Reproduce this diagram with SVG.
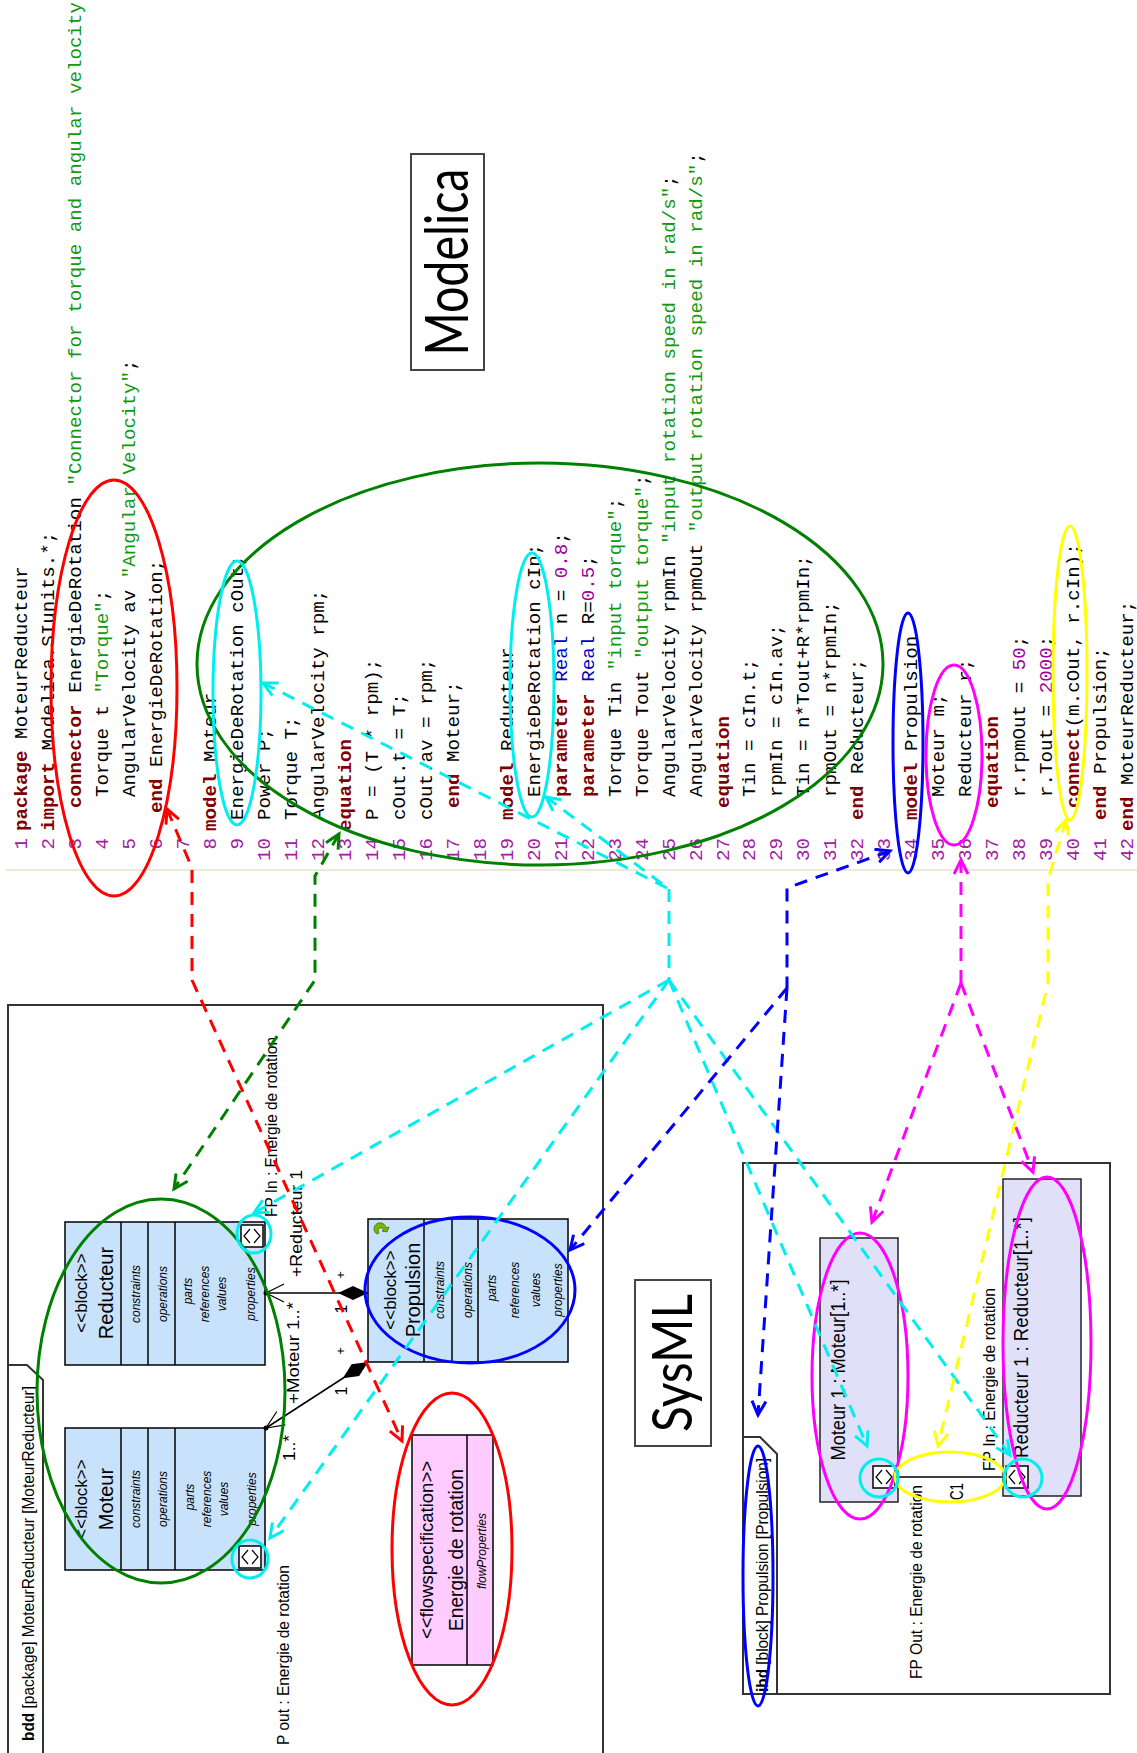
<svg xmlns="http://www.w3.org/2000/svg" xmlns:xlink="http://www.w3.org/1999/xlink" width="1137" height="1753" viewBox="0 0 1137 1753">
<style>
.c{font-family:"Liberation Mono","Courier New",monospace;font-size:19.2px;fill:#000}
.k{fill:#7f0000;font-weight:bold}
.s{fill:#119911}
.n{fill:#a000a0}
.t{fill:#0000c0}
.ln{font-family:"Liberation Mono","Courier New",monospace;font-size:19.2px;fill:#a020a0;text-anchor:end}
.sy{font-family:"Liberation Sans",Arial,sans-serif;fill:#000}
.mid{text-anchor:middle}
.it{font-style:italic;font-size:12px}
.big{font-family:Lato,"Open Sans",sans-serif;fill:#000}
.el{fill:none;stroke-width:3}
.d{fill:none;stroke-width:3;stroke-dasharray:13 9}
.blk{fill:#c8e2fc;stroke:#000;stroke-width:1.5}
.prt{fill:#e0e0f8;stroke:#222;stroke-width:1.5}
.frm{fill:none;stroke:#333;stroke-width:2}
.ln1{stroke:#000;stroke-width:1.5}
</style>
<defs>
<marker id="aR" markerUnits="userSpaceOnUse" markerWidth="18" markerHeight="18" refX="15" refY="8" orient="auto-start-reverse"><path d="M1,1 L15,8 L1,15" fill="none" stroke="#ff0000" stroke-width="3"/></marker>
<marker id="aG" markerUnits="userSpaceOnUse" markerWidth="18" markerHeight="18" refX="15" refY="8" orient="auto-start-reverse"><path d="M1,1 L15,8 L1,15" fill="none" stroke="#008000" stroke-width="3"/></marker>
<marker id="aC" markerUnits="userSpaceOnUse" markerWidth="18" markerHeight="18" refX="15" refY="8" orient="auto-start-reverse"><path d="M1,1 L15,8 L1,15" fill="none" stroke="#00eeee" stroke-width="3"/></marker>
<marker id="aB" markerUnits="userSpaceOnUse" markerWidth="18" markerHeight="18" refX="15" refY="8" orient="auto-start-reverse"><path d="M1,1 L15,8 L1,15" fill="none" stroke="#0000ff" stroke-width="3"/></marker>
<marker id="aM" markerUnits="userSpaceOnUse" markerWidth="18" markerHeight="18" refX="15" refY="8" orient="auto-start-reverse"><path d="M1,1 L15,8 L1,15" fill="none" stroke="#ff00ff" stroke-width="3"/></marker>
<marker id="aY" markerUnits="userSpaceOnUse" markerWidth="18" markerHeight="18" refX="15" refY="8" orient="auto-start-reverse"><path d="M1,1 L15,8 L1,15" fill="none" stroke="#ffff00" stroke-width="3"/></marker>
<g id="port"><rect x="0" y="0" width="22" height="22" fill="#fff" stroke="#000" stroke-width="1.5"/><polyline points="9,4 3,11 9,18" fill="none" stroke="#000" stroke-width="1.2"/><polyline points="13,4 19,11 13,18" fill="none" stroke="#000" stroke-width="1.2"/></g>
</defs>
<rect width="1137" height="1753" fill="#fff"/>

<g id="modelica-code">
<line x1="6" y1="870" x2="1137" y2="870" stroke="#ece9d8" stroke-width="2"/>
<text class="ln" transform="translate(27,838) rotate(-90)">1</text>
<text class="ln" transform="translate(54,838) rotate(-90)">2</text>
<text class="ln" transform="translate(81,838) rotate(-90)">3</text>
<text class="ln" transform="translate(107.9,838) rotate(-90)">4</text>
<text class="ln" transform="translate(134.9,838) rotate(-90)">5</text>
<text class="ln" transform="translate(161.9,838) rotate(-90)">6</text>
<text class="ln" transform="translate(188.9,838) rotate(-90)">7</text>
<text class="ln" transform="translate(215.9,838) rotate(-90)">8</text>
<text class="ln" transform="translate(242.8,838) rotate(-90)">9</text>
<text class="ln" transform="translate(269.8,838) rotate(-90)">10</text>
<text class="ln" transform="translate(296.8,838) rotate(-90)">11</text>
<text class="ln" transform="translate(323.8,838) rotate(-90)">12</text>
<text class="ln" transform="translate(350.7,838) rotate(-90)">13</text>
<text class="ln" transform="translate(377.7,838) rotate(-90)">14</text>
<text class="ln" transform="translate(404.7,838) rotate(-90)">15</text>
<text class="ln" transform="translate(431.7,838) rotate(-90)">16</text>
<text class="ln" transform="translate(458.7,838) rotate(-90)">17</text>
<text class="ln" transform="translate(485.7,838) rotate(-90)">18</text>
<text class="ln" transform="translate(512.6,838) rotate(-90)">19</text>
<text class="ln" transform="translate(539.6,838) rotate(-90)">20</text>
<text class="ln" transform="translate(566.6,838) rotate(-90)">21</text>
<text class="ln" transform="translate(593.6,838) rotate(-90)">22</text>
<text class="ln" transform="translate(620.5,838) rotate(-90)">23</text>
<text class="ln" transform="translate(647.5,838) rotate(-90)">24</text>
<text class="ln" transform="translate(674.5,838) rotate(-90)">25</text>
<text class="ln" transform="translate(701.5,838) rotate(-90)">26</text>
<text class="ln" transform="translate(728.5,838) rotate(-90)">27</text>
<text class="ln" transform="translate(755.4,838) rotate(-90)">28</text>
<text class="ln" transform="translate(782.4,838) rotate(-90)">29</text>
<text class="ln" transform="translate(809.4,838) rotate(-90)">30</text>
<text class="ln" transform="translate(836.4,838) rotate(-90)">31</text>
<text class="ln" transform="translate(863.3,838) rotate(-90)">32</text>
<text class="ln" transform="translate(890.3,838) rotate(-90)">33</text>
<text class="ln" transform="translate(917.3,838) rotate(-90)">34</text>
<text class="ln" transform="translate(944.3,838) rotate(-90)">35</text>
<text class="ln" transform="translate(971.3,838) rotate(-90)">36</text>
<text class="ln" transform="translate(998.2,838) rotate(-90)">37</text>
<text class="ln" transform="translate(1025.2,838) rotate(-90)">38</text>
<text class="ln" transform="translate(1052.2,838) rotate(-90)">39</text>
<text class="ln" transform="translate(1079.2,838) rotate(-90)">40</text>
<text class="ln" transform="translate(1106.2,838) rotate(-90)">41</text>
<text class="ln" transform="translate(1133.2,838) rotate(-90)">42</text>

<text class="c" transform="translate(27,831) rotate(-90)"><tspan class="k">package</tspan> MoteurReducteur</text>
<text class="c" transform="translate(54,831) rotate(-90)"><tspan class="k">import</tspan> Modelica.SIunits.*;</text>
<text class="c" transform="translate(81,808) rotate(-90)"><tspan class="k">connector</tspan> EnergieDeRotation <tspan class="s">"Connector for torque and angular velocity"</tspan></text>
<text class="c" transform="translate(107.9,797) rotate(-90)">Torque t <tspan class="s">"Torque"</tspan>;</text>
<text class="c" transform="translate(134.9,797) rotate(-90)">AngularVelocity av <tspan class="s">"Angular Velocity"</tspan>;</text>
<text class="c" transform="translate(161.9,813) rotate(-90)"><tspan class="k">end</tspan> EnergieDeRotation;</text>
<text class="c" transform="translate(215.9,831) rotate(-90)"><tspan class="k">model</tspan> Moteur</text>
<text class="c" transform="translate(242.8,820) rotate(-90)">EnergieDeRotation cOut;</text>
<text class="c" transform="translate(269.8,820) rotate(-90)">Power P;</text>
<text class="c" transform="translate(296.8,820) rotate(-90)">Torque T;</text>
<text class="c" transform="translate(323.8,820) rotate(-90)">AngularVelocity rpm;</text>
<text class="c" transform="translate(350.7,831) rotate(-90)"><tspan class="k">equation</tspan></text>
<text class="c" transform="translate(377.7,820) rotate(-90)">P = (T * rpm);</text>
<text class="c" transform="translate(404.7,820) rotate(-90)">cOut.t = T;</text>
<text class="c" transform="translate(431.7,820) rotate(-90)">cOut.av = rpm;</text>
<text class="c" transform="translate(458.7,808) rotate(-90)"><tspan class="k">end</tspan> Moteur;</text>
<text class="c" transform="translate(512.6,820) rotate(-90)"><tspan class="k">model</tspan> Reducteur</text>
<text class="c" transform="translate(539.6,797) rotate(-90)">EnergieDeRotation cIn;</text>
<text class="c" transform="translate(566.6,797) rotate(-90)"><tspan class="k">parameter</tspan> <tspan class="t">Real</tspan> n = <tspan class="n">0.8</tspan>;</text>
<text class="c" transform="translate(593.6,797) rotate(-90)"><tspan class="k">parameter</tspan> <tspan class="t">Real</tspan> R=<tspan class="n">0.5</tspan>;</text>
<text class="c" transform="translate(620.5,797) rotate(-90)">Torque Tin <tspan class="s">"input torque"</tspan>;</text>
<text class="c" transform="translate(647.5,797) rotate(-90)">Torque Tout <tspan class="s">"output torque"</tspan>;</text>
<text class="c" transform="translate(674.5,797) rotate(-90)">AngularVelocity rpmIn <tspan class="s">"input rotation speed in rad/s"</tspan>;</text>
<text class="c" transform="translate(701.5,797) rotate(-90)">AngularVelocity rpmOut <tspan class="s">"output rotation speed in rad/s"</tspan>;</text>
<text class="c" transform="translate(728.5,808) rotate(-90)"><tspan class="k">equation</tspan></text>
<text class="c" transform="translate(755.4,797) rotate(-90)">Tin = cIn.t;</text>
<text class="c" transform="translate(782.4,797) rotate(-90)">rpmIn = cIn.av;</text>
<text class="c" transform="translate(809.4,797) rotate(-90)">Tin = n*Tout+R*rpmIn;</text>
<text class="c" transform="translate(836.4,797) rotate(-90)">rpmOut = n*rpmIn;</text>
<text class="c" transform="translate(863.3,820) rotate(-90)"><tspan class="k">end</tspan> Reducteur;</text>
<text class="c" transform="translate(917.3,820) rotate(-90)"><tspan class="k">model</tspan> Propulsion</text>
<text class="c" transform="translate(944.3,797) rotate(-90)">Moteur m;</text>
<text class="c" transform="translate(971.3,797) rotate(-90)">Reducteur r;</text>
<text class="c" transform="translate(998.2,808) rotate(-90)"><tspan class="k">equation</tspan></text>
<text class="c" transform="translate(1025.2,797) rotate(-90)">r.rpmOut = <tspan class="n">50</tspan>;</text>
<text class="c" transform="translate(1052.2,797) rotate(-90)">r.Tout = <tspan class="n">2000</tspan>;</text>
<text class="c" transform="translate(1079.2,808) rotate(-90)"><tspan class="k">connect</tspan>(m.cOut, r.cIn);</text>
<text class="c" transform="translate(1106.2,820) rotate(-90)"><tspan class="k">end</tspan> Propulsion;</text>
<text class="c" transform="translate(1133.2,831) rotate(-90)"><tspan class="k">end</tspan> MoteurReducteur;</text>
</g>

<g id="label-modelica">
<rect x="411" y="154" width="73" height="216" fill="none" stroke="#444" stroke-width="2"/>
<text class="big mid" font-size="60" textLength="187" lengthAdjust="spacingAndGlyphs" transform="translate(468,262) rotate(-90)">Modelica</text>
</g>

<g id="label-sysml">
<rect x="635" y="1280" width="76" height="166" fill="none" stroke="#444" stroke-width="2"/>
<text class="big mid" font-size="56" textLength="138" lengthAdjust="spacingAndGlyphs" transform="translate(692,1363) rotate(-90)">SysML</text>
</g>

<g id="bdd-frame">
<rect x="8" y="1005" width="595" height="770" class="frm"/>
<path d="M8,1365 L27,1365 L43,1380 L43,1753" class="frm"/>
<text class="sy" font-size="17" textLength="355" lengthAdjust="spacingAndGlyphs" transform="translate(34,1741) rotate(-90)"><tspan font-weight="bold">bdd</tspan> [package] MoteurReducteur [MoteurReducteur]</text>
</g>

<g id="block-reducteur">
<rect x="65" y="1222" width="200" height="143" class="blk"/>
<line x1="121" y1="1222" x2="121" y2="1365" class="ln1"/>
<line x1="148" y1="1222" x2="148" y2="1365" class="ln1"/>
<line x1="175" y1="1222" x2="175" y2="1365" class="ln1"/>
<text class="sy mid" font-size="17" transform="translate(87,1293) rotate(-90)">&lt;&lt;block&gt;&gt;</text>
<text class="sy mid" font-size="20" transform="translate(113,1293) rotate(-90)">Reducteur</text>
<text class="sy mid it" transform="translate(140,1294) rotate(-90)">constraints</text>
<text class="sy mid it" transform="translate(167,1294) rotate(-90)">operations</text>
<text class="sy mid it" transform="translate(192,1291) rotate(-90)">parts</text>
<text class="sy mid it" transform="translate(209,1294) rotate(-90)">references</text>
<text class="sy mid it" transform="translate(226,1294) rotate(-90)">values</text>
<text class="sy mid it" transform="translate(255,1294) rotate(-90)">properties</text>
<use href="#port" x="241" y="1225"/>
</g>

<g id="block-moteur">
<rect x="65" y="1428" width="200" height="142" class="blk"/>
<line x1="121" y1="1428" x2="121" y2="1570" class="ln1"/>
<line x1="148" y1="1428" x2="148" y2="1570" class="ln1"/>
<line x1="175" y1="1428" x2="175" y2="1570" class="ln1"/>
<text class="sy mid" font-size="17" transform="translate(87,1499) rotate(-90)">&lt;&lt;block&gt;&gt;</text>
<text class="sy mid" font-size="20" transform="translate(113,1499) rotate(-90)">Moteur</text>
<text class="sy mid it" transform="translate(140,1499) rotate(-90)">constraints</text>
<text class="sy mid it" transform="translate(167,1499) rotate(-90)">operations</text>
<text class="sy mid it" transform="translate(194,1497) rotate(-90)">parts</text>
<text class="sy mid it" transform="translate(211,1499) rotate(-90)">references</text>
<text class="sy mid it" transform="translate(228,1499) rotate(-90)">values</text>
<text class="sy mid it" transform="translate(256,1499) rotate(-90)">properties</text>
<use href="#port" x="239" y="1546"/>
</g>

<g id="block-propulsion">
<rect x="368" y="1219" width="200" height="143" class="blk"/>
<line x1="424" y1="1219" x2="424" y2="1362" class="ln1"/>
<line x1="452" y1="1219" x2="452" y2="1362" class="ln1"/>
<line x1="478" y1="1219" x2="478" y2="1362" class="ln1"/>
<path d="M377,1234 a6,6 0 1 1 9,-6 l3,-1 -2,5 -5,-1 2,-1 a3,3 0 1 0 -5,3 z" fill="#7ab800" stroke="#3a6e00" stroke-width="0.8"/>
<text class="sy mid" font-size="17" transform="translate(396,1290) rotate(-90)">&lt;&lt;block&gt;&gt;</text>
<text class="sy mid" font-size="20" transform="translate(420,1290) rotate(-90)">Propulsion</text>
<text class="sy mid it" transform="translate(444,1290) rotate(-90)">constraints</text>
<text class="sy mid it" transform="translate(472,1290) rotate(-90)">operations</text>
<text class="sy mid it" transform="translate(496,1288) rotate(-90)">parts</text>
<text class="sy mid it" transform="translate(519,1290) rotate(-90)">references</text>
<text class="sy mid it" transform="translate(540,1290) rotate(-90)">values</text>
<text class="sy mid it" transform="translate(562,1290) rotate(-90)">properties</text>
</g>

<g id="block-energie">
<rect x="412" y="1435" width="81" height="230" fill="#ffccff" stroke="#000" stroke-width="1.5"/>
<line x1="467" y1="1435" x2="467" y2="1665" class="ln1"/>
<text class="sy mid" font-size="18" textLength="178" lengthAdjust="spacingAndGlyphs" transform="translate(433,1550) rotate(-90)">&lt;&lt;flowspecification&gt;&gt;</text>
<text class="sy mid" font-size="20" textLength="162" lengthAdjust="spacingAndGlyphs" transform="translate(463,1550) rotate(-90)">Energie de rotation</text>
<text class="sy mid it" transform="translate(486,1551) rotate(-90)">flowProperties</text>
</g>

<g id="bdd-associations">
<line x1="368" y1="1293" x2="266" y2="1293" class="ln1"/>
<polygon points="368,1293 353,1286 338,1293 353,1300" fill="#000"/>
<polyline points="284,1284 266,1293 284,1302" fill="none" stroke="#000" stroke-width="1.2"/>
<circle cx="266" cy="1293" r="2.5" fill="#000"/>
<line x1="368" y1="1362" x2="266" y2="1428" class="ln1"/>
<polygon points="368,1362 359.2,1376 342.8,1378.3 351.6,1364.2" fill="#000"/>
<polyline points="285.4,1424.9 266,1428 276.8,1411.5" fill="none" stroke="#000" stroke-width="1.2"/>
<circle cx="266" cy="1428" r="2.5" fill="#000"/>
<text class="sy" font-size="17" textLength="107" lengthAdjust="spacingAndGlyphs" transform="translate(302,1277) rotate(-90)">+Reducteur 1</text>
<text class="sy" font-size="17" textLength="102" lengthAdjust="spacingAndGlyphs" transform="translate(299,1404) rotate(-90)">+Moteur 1..*</text>
<text class="sy" font-size="17" textLength="26" lengthAdjust="spacingAndGlyphs" transform="translate(295,1461) rotate(-90)">1..*</text>
<text class="sy mid" font-size="13" transform="translate(345,1275) rotate(-90)">+</text>
<text class="sy mid" font-size="16" transform="translate(347,1309) rotate(-90)">1</text>
<text class="sy mid" font-size="13" transform="translate(345,1351) rotate(-90)">+</text>
<text class="sy mid" font-size="16" transform="translate(347,1391) rotate(-90)">1</text>
<text class="sy" font-size="16.5" textLength="180" lengthAdjust="spacingAndGlyphs" transform="translate(277,1217) rotate(-90)">FP In : Energie de rotation</text>
<text class="sy" font-size="16.5" textLength="180" lengthAdjust="spacingAndGlyphs" transform="translate(289,1745) rotate(-90)">P out : Energie de rotation</text>
</g>

<g id="ibd-frame">
<rect x="743" y="1163" width="367" height="531" class="frm"/>
<path d="M743,1437 L760,1437 L777,1454 L777,1694" class="frm"/>
<text class="sy" font-size="17" textLength="234" lengthAdjust="spacingAndGlyphs" transform="translate(768,1692) rotate(-90)"><tspan font-weight="bold">ibd</tspan> [block] Propulsion [Propulsion]</text>
</g>

<g id="part-moteur">
<rect x="820" y="1238" width="78" height="264" class="prt"/>
<text class="sy mid" font-size="20" textLength="181" lengthAdjust="spacingAndGlyphs" transform="translate(845,1370) rotate(-90)">Moteur 1 : Moteur[1..*]</text>
<use href="#port" x="873" y="1466"/>
<text class="sy" font-size="16.5" textLength="194" lengthAdjust="spacingAndGlyphs" transform="translate(922,1679) rotate(-90)">FP Out : Energie de rotation</text>
</g>

<g id="part-reducteur">
<rect x="1003" y="1179" width="78" height="317" class="prt"/>
<text class="sy" font-size="20" textLength="241" lengthAdjust="spacingAndGlyphs" transform="translate(1028,1458) rotate(-90)">Reducteur 1 : Reducteur[1..*]</text>
<use href="#port" x="1006" y="1466"/>
<text class="sy" font-size="16.5" textLength="183" lengthAdjust="spacingAndGlyphs" transform="translate(995,1471) rotate(-90)">FP In : Energie de rotation</text>
</g>

<g id="ibd-connector">
<line x1="895" y1="1477" x2="1006" y2="1477" class="ln1"/>
<text class="sy" font-size="18" textLength="17" lengthAdjust="spacingAndGlyphs" transform="translate(963,1500) rotate(-90)">C1</text>
</g>

<g id="highlights">
<ellipse cx="114" cy="688" rx="63" ry="208" class="el" stroke="#ff0000"/>
<ellipse cx="540" cy="664" rx="343" ry="201" class="el" stroke="#008000"/>
<ellipse cx="237" cy="693" rx="24" ry="132" class="el" stroke="#00eeee"/>
<ellipse cx="532" cy="685" rx="22" ry="132" class="el" stroke="#00eeee"/>
<ellipse cx="908" cy="743" rx="15" ry="130" class="el" stroke="#0000ff"/>
<ellipse cx="954" cy="755" rx="28" ry="90" class="el" stroke="#ff00ff"/>
<ellipse cx="1070" cy="673" rx="17" ry="147" class="el" stroke="#ffff00"/>
<ellipse cx="161" cy="1391" rx="124" ry="192" class="el" stroke="#008000"/>
<ellipse cx="254" cy="1234" rx="17" ry="19" class="el" stroke="#00eeee"/>
<ellipse cx="250" cy="1559" rx="18" ry="19" class="el" stroke="#00eeee"/>
<ellipse cx="470" cy="1290" rx="105" ry="73" class="el" stroke="#0000ff"/>
<ellipse cx="452" cy="1549" rx="60" ry="156" class="el" stroke="#ff0000"/>
<ellipse cx="758" cy="1576" rx="15" ry="130" class="el" stroke="#0000ff"/>
<ellipse cx="860" cy="1376" rx="48" ry="143" class="el" stroke="#ff00ff"/>
<ellipse cx="1047" cy="1343" rx="44" ry="166" class="el" stroke="#ff00ff"/>
<ellipse cx="950" cy="1477" rx="55" ry="25" class="el" stroke="#ffff00"/>
<ellipse cx="879" cy="1478" rx="19" ry="19" class="el" stroke="#00eeee"/>
<ellipse cx="1023" cy="1478" rx="19" ry="19" class="el" stroke="#00eeee"/>
</g>

<g id="connectors">
<path d="M167,809 L192,868 L192,980 L402,1441" class="d" stroke="#ff0000" marker-start="url(#aR)" marker-end="url(#aR)"/>
<path d="M339,834 L315,876 L315,980 L174,1189" class="d" stroke="#008000" marker-start="url(#aG)" marker-end="url(#aG)"/>
<path d="M263,683 L669,889" class="d" stroke="#00eeee" marker-start="url(#aC)"/>
<path d="M546,797 L669,889" class="d" stroke="#00eeee" marker-start="url(#aC)"/>
<path d="M669,889 L669,980" class="d" stroke="#00eeee"/>
<path d="M669,980 L254,1213" class="d" stroke="#00eeee" marker-end="url(#aC)"/>
<path d="M669,980 L270,1538" class="d" stroke="#00eeee" marker-end="url(#aC)"/>
<path d="M669,980 L867,1446" class="d" stroke="#00eeee" marker-end="url(#aC)"/>
<path d="M669,980 L1010,1455" class="d" stroke="#00eeee" marker-end="url(#aC)"/>
<path d="M890,851 L787,888 L787,988" class="d" stroke="#0000ff" marker-start="url(#aB)"/>
<path d="M787,988 L570,1250" class="d" stroke="#0000ff" marker-end="url(#aB)"/>
<path d="M787,988 L758,1415" class="d" stroke="#0000ff" marker-end="url(#aB)"/>
<path d="M961,860 L961,983" class="d" stroke="#ff00ff" marker-start="url(#aM)"/>
<path d="M961,983 L872,1222" class="d" stroke="#ff00ff" marker-end="url(#aM)"/>
<path d="M961,983 L1033,1172" class="d" stroke="#ff00ff" marker-end="url(#aM)"/>
<path d="M1066,820 L1048,880 L1048,983 L938,1446" class="d" stroke="#ffff00" marker-start="url(#aY)" marker-end="url(#aY)"/>
</g>
</svg>
